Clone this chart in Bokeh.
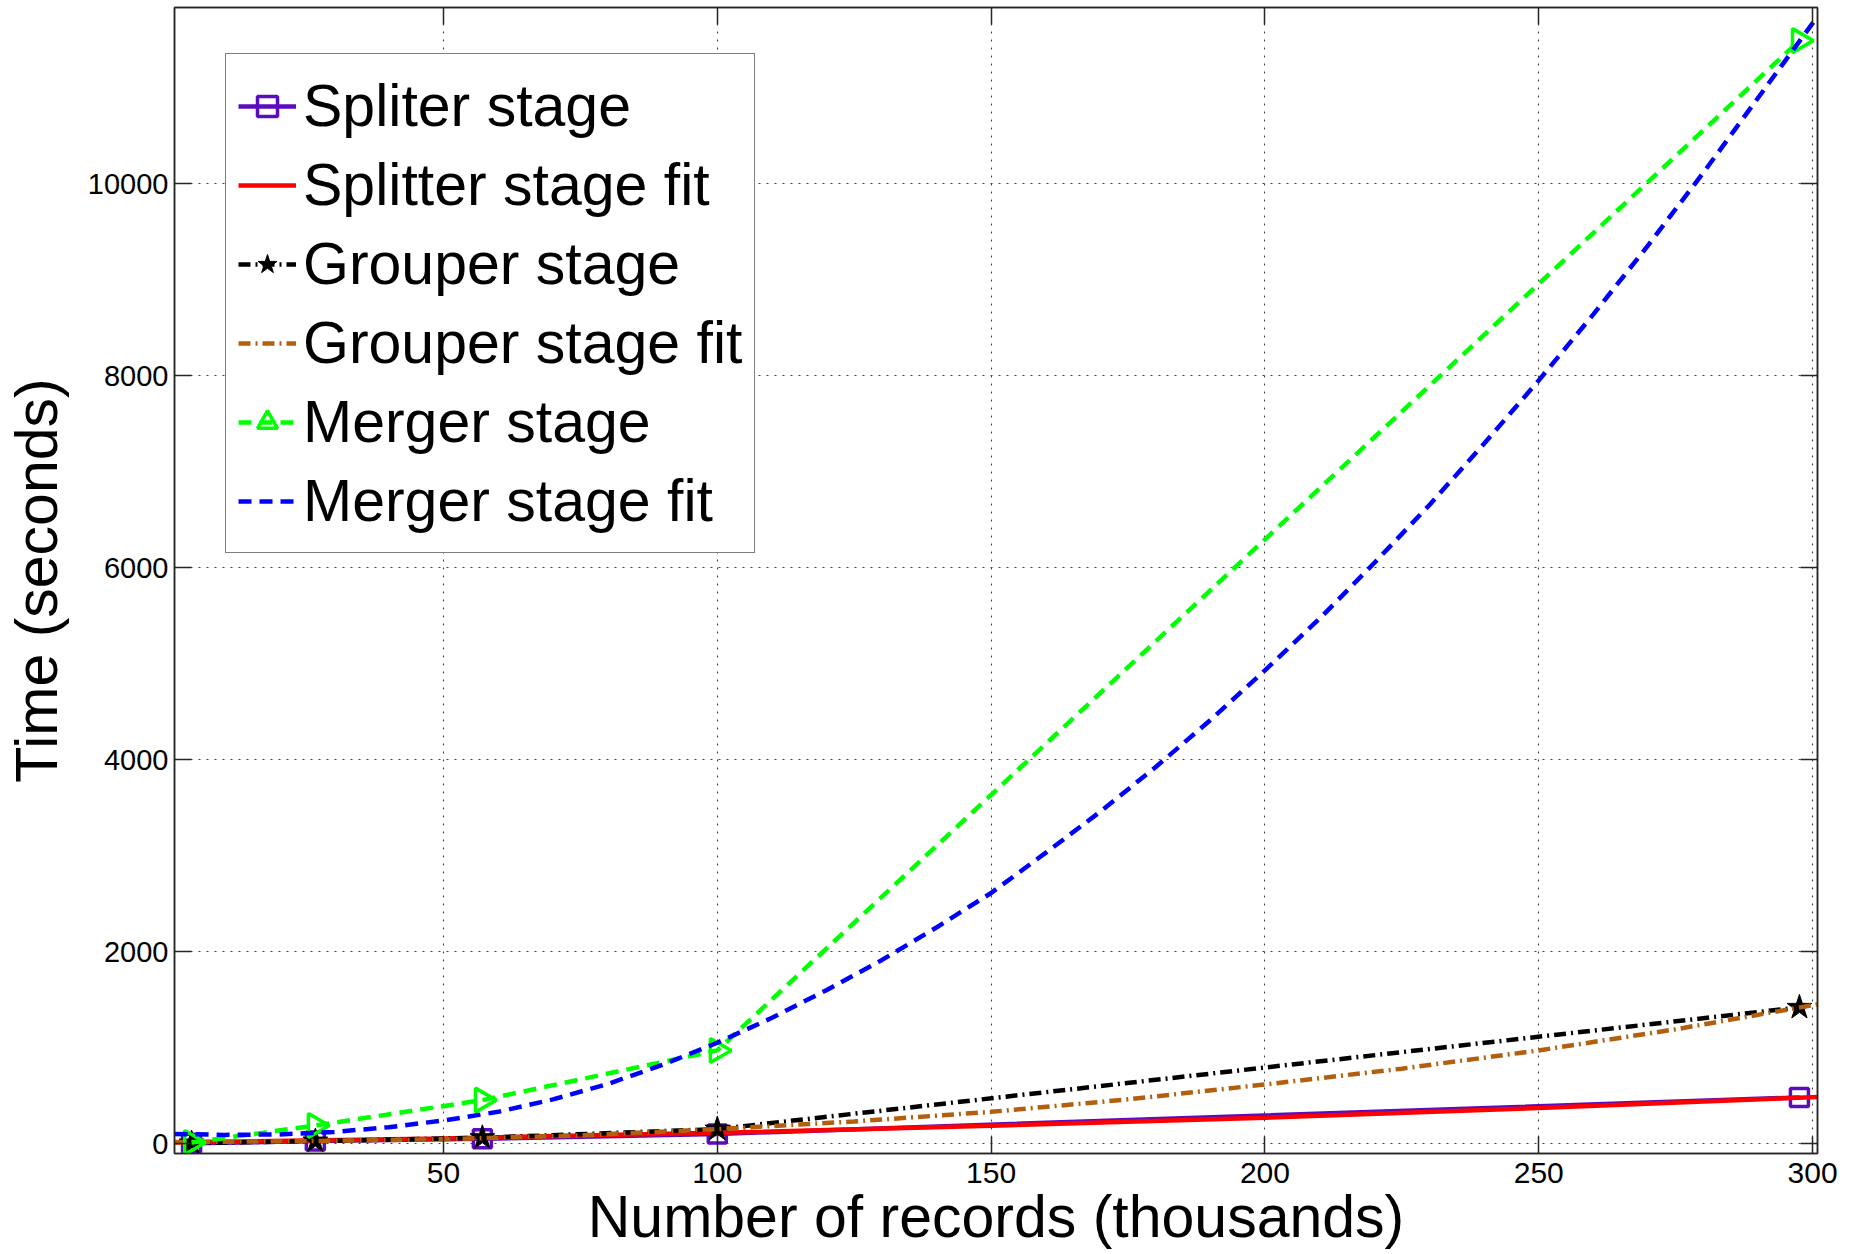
import math
from bokeh.plotting import figure
from bokeh.models import (LinearAxis, Legend, LegendItem, FixedTicker, Range1d,
                          BasicTickFormatter, CustomLabelingPolicy)
from bokeh.embed import file_html
from bokeh.resources import INLINE

# ---- data ----
x_stage = [4.0, 26.6, 57.1, 100.0, 297.6]
splitter_stage = [3, 25, 50, 100, 480]
grouper_stage = [5, 25, 60, 150, 1418]
merger_stage = [10, 188, 452, 970, 11490]

splitter_fit_x = [0.9, 50, 100, 150, 200, 250, 300.9]
splitter_fit_y = [10, 53, 111, 185, 269, 369, 485]

grouper_fit_x = [0.9, 25, 50, 75, 100, 125, 150, 175, 200, 225, 250, 275, 300.9]
grouper_fit_y = [15, 25, 45, 85, 150, 230, 330, 460, 615, 780, 970, 1190, 1450]

merger_fit_x = [0.9, 10, 20, 30, 40, 50, 60, 70, 80, 90, 100, 110, 120, 130, 140, 150,
                160, 170, 180, 190, 200, 210, 220, 230, 240, 250, 260, 270, 280, 290, 300.9]
merger_fit_y = [100, 90, 95, 120, 170, 240, 330, 460, 620, 820, 1050, 1310, 1600, 1910, 2250, 2610,
                3030, 3460, 3920, 4410, 4930, 5470, 6050, 6650, 7290, 7950, 8640, 9360, 10110, 10890, 11740]

x_ticks = [50, 100, 150, 200, 250, 300]
y_ticks = [0, 2000, 4000, 6000, 8000, 10000]

labels = ["Spliter stage", "Splitter stage fit", "Grouper stage", "Grouper stage fit",
          "Merger stage", "Merger stage fit"]
x_label = "Number of records (thousands)"
y_label = "Time (seconds)"

X0, X1 = 0.88, 300.9
Y0, Y1 = -104, 11835

FONT = "Liberation Sans"
AX = "#262626"

W, H = 1850, 1254
p = figure(width=W, height=H,
           x_range=Range1d(X0, X1), y_range=Range1d(Y0, Y1),
           output_backend="svg", toolbar_location=None,
           min_border_left=174, min_border_right=W - 1817, min_border_top=7,
           min_border_bottom=H - 1153)
p.background_fill_color = "white"
p.border_fill_color = "white"
p.outline_line_color = AX
p.outline_line_width = 1.5

for ax in (p.xaxis[0], p.yaxis[0]):
    ax.axis_line_color = AX
    ax.axis_line_width = 1.5
    ax.major_tick_line_color = AX
    ax.major_tick_line_width = 1.5
    ax.major_tick_in = 17
    ax.major_tick_out = 0
    ax.minor_tick_line_color = None
    ax.major_label_text_font = FONT
    ax.major_label_text_color = "black"
    ax.axis_label_text_font = FONT
    ax.axis_label_text_font_style = "normal"
    ax.axis_label_text_font_size = "59px"
    ax.axis_label_text_color = "black"

p.xaxis[0].ticker = FixedTicker(ticks=x_ticks)
p.yaxis[0].ticker = FixedTicker(ticks=y_ticks)
p.yaxis[0].formatter = BasicTickFormatter(use_scientific=False)
p.xaxis[0].axis_label = x_label
p.yaxis[0].axis_label = y_label
p.xaxis[0].major_label_text_font_size = "30px"
p.yaxis[0].major_label_text_font_size = "29px"
p.xaxis[0].major_label_standoff = 9
p.xaxis[0].axis_label_standoff = -2
p.yaxis[0].major_label_standoff = 6
p.yaxis[0].axis_label_standoff = 15

# mirrored ticks (box on), without labels
for loc, tk in (("above", x_ticks), ("right", y_ticks)):
    a = LinearAxis(ticker=FixedTicker(ticks=tk), major_label_text_font_size="1px",
                   major_label_policy=CustomLabelingPolicy(code="return []"),
                   major_label_standoff=0, major_tick_in=17, major_tick_out=0,
                   minor_tick_line_color=None, axis_line_color=AX, axis_line_width=1.5,
                   major_tick_line_color=AX, major_tick_line_width=1.5)
    p.add_layout(a, loc)

for g in (p.xgrid[0], p.ygrid[0]):
    g.grid_line_color = "#444444"
    g.grid_line_dash = "2 6"
    g.grid_line_width = 1.1
p.xgrid[0].ticker = FixedTicker(ticks=x_ticks)
p.ygrid[0].ticker = FixedTicker(ticks=y_ticks)

LW = 4.5
PURPLE = "#5B0DBE"
BROWN = "#B35F0D"

r1l = p.line(x_stage, splitter_stage, line_color=PURPLE, line_width=LW)
r1m = p.scatter(x_stage, splitter_stage, marker="square", size=18, fill_color=None,
                line_color=PURPLE, line_width=3.5)
r2 = p.line(splitter_fit_x, splitter_fit_y, line_color="#FF0000", line_width=LW)
r3l = p.line(x_stage, grouper_stage, line_color="black", line_width=LW, line_dash="12 5 2 5")
r3m = p.scatter(x_stage, grouper_stage, marker="star", size=26, fill_color="black",
                line_color="black", line_width=1)
r4 = p.line(grouper_fit_x, grouper_fit_y, line_color=BROWN, line_width=LW, line_dash="12 5 2 5")
r5l = p.line(x_stage, merger_stage, line_color="#00FF00", line_width=LW, line_dash="13 8")
r5m = p.scatter(x_stage, merger_stage, marker="triangle", size=24, angle=-math.pi / 2,
                fill_color=None, line_color="#00FF00", line_width=3.5)
r6 = p.line(merger_fit_x, merger_fit_y, line_color="#0000FF", line_width=LW, line_dash="13 8")

items = [
    LegendItem(label=labels[0], renderers=[r1l, r1m]),
    LegendItem(label=labels[1], renderers=[r2]),
    LegendItem(label=labels[2], renderers=[r3l, r3m]),
    LegendItem(label=labels[3], renderers=[r4]),
    LegendItem(label=labels[4], renderers=[r5l, r5m]),
    LegendItem(label=labels[5], renderers=[r6]),
]
legend = Legend(items=items, location=(51, 600), orientation="vertical",
                label_text_font=FONT, label_text_font_size="59px", label_text_color="black",
                label_height=79, glyph_height=50, glyph_width=58, label_standoff=7,
                spacing=0, padding=12, margin=0,
                border_line_color="black", border_line_width=1.5,
                background_fill_color="white", background_fill_alpha=1.0)
p.add_layout(legend, "center")

open("out.html", "w").write(file_html(p, INLINE))
